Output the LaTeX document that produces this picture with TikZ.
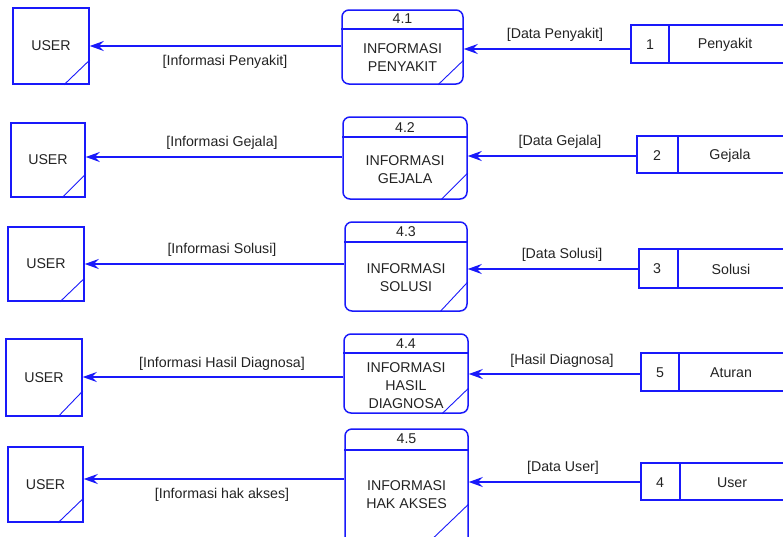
\documentclass[tikz,border=0pt]{standalone}
\usepackage{fontspec}
\setmainfont{Liberation Sans}
\usetikzlibrary{arrows.meta}
\definecolor{dfdblue}{RGB}{25,25,250}
\definecolor{txt}{RGB}{35,35,35}
\begin{document}
\begin{tikzpicture}[x=1pt,y=-1pt,
  every node/.style={font=\fontsize{14.2}{18}\selectfont, text=txt, inner sep=0pt},
  userbox/.style={draw=dfdblue, line width=1.5pt, rectangle},
  procbox/.style={draw=dfdblue, line width=1.5pt, rectangle, rounded corners=7pt},
  storebox/.style={draw=dfdblue, line width=1.5pt, rectangle},
  sep/.style={draw=dfdblue, line width=1.5pt},
  diag/.style={draw=dfdblue, line width=0.9pt},
  flow/.style={draw=dfdblue, line width=1.6pt, -{Stealth[length=14pt,width=10pt,inset=5pt]}},
  lbl/.style={align=center}]
\useasboundingbox (0,0) rectangle (783,536);
\clip (0,0) rectangle (783,536);

% ---------- Row 1 ----------
\node[userbox, minimum width=76pt, minimum height=76pt] (u1) at (51,46) {USER};
\draw[diag] (u1.east |- 0,60) -- (u1.south -| 64,0);
\node[procbox, minimum width=121pt, minimum height=74pt] (p1) at (402.5,47) {};
\draw[sep] (p1.west |- 0,29) -- (p1.east |- 0,29);
\draw[diag] (p1.east |- 0,60) -- (p1.south -| 438,0);
\node (t1) at (402.5,19) {4.1};
\node[lbl] (n1) at (402.5,58) {INFORMASI\\PENYAKIT};
\node[storebox, minimum width=164pt, minimum height=38pt] (s1) at (713,44) {};
\draw[sep] (s1.north -| 669,0) -- (s1.south -| 669,0);
\node (k1) at (650,45) {1};
\node (m1) at (725,45) {Penyakit};
\draw[flow] (s1.west |- 0,49) -- (p1.east |- 0,49);
\draw[flow] (p1.west |- 0,46) -- (u1.east |- 0,46);
\node (a1) at (555,35) {[Data Penyakit]};
\node (b1) at (225,62) {[Informasi Penyakit]};

% ---------- Row 2 ----------
\node[userbox, minimum width=74pt, minimum height=74pt] (u2) at (48,160) {USER};
\draw[diag] (u2.east |- 0,174) -- (u2.south -| 62,0);
\node[procbox, minimum width=124pt, minimum height=82pt] (p2) at (405,158) {};
\draw[sep] (p2.west |- 0,137) -- (p2.east |- 0,137);
\draw[diag] (p2.east |- 0,173) -- (p2.south -| 441,0);
\node (t2) at (405,128) {4.2};
\node[lbl] (n2) at (405,170) {INFORMASI\\GEJALA};
\node[storebox, minimum width=158pt, minimum height=37pt] (s2) at (716,154.5) {};
\draw[sep] (s2.north -| 678,0) -- (s2.south -| 678,0);
\node (k2) at (657,156) {2};
\node (m2) at (730,156) {Gejala};
\draw[flow] (s2.west |- 0,156) -- (p2.east |- 0,156);
\draw[flow] (p2.west |- 0,157) -- (u2.east |- 0,157);
\node (a2) at (560,142) {[Data Gejala]};
\node (b2) at (222,143) {[Informasi Gejala]};

% ---------- Row 3 ----------
\node[userbox, minimum width=76pt, minimum height=74pt] (u3) at (46,264) {USER};
\draw[diag] (u3.east |- 0,278) -- (u3.south -| 60,0);
\node[procbox, minimum width=122pt, minimum height=89pt] (p3) at (406,266.5) {};
\draw[sep] (p3.west |- 0,242) -- (p3.east |- 0,242);
\draw[diag] (p3.east |- 0,282) -- (p3.south -| 440,0);
\node (t3) at (406,232) {4.3};
\node[lbl] (n3) at (406,277.5) {INFORMASI\\SOLUSI};
\node[storebox, minimum width=156pt, minimum height=39pt] (s3) at (717,268.5) {};
\draw[sep] (s3.north -| 678,0) -- (s3.south -| 678,0);
\node (k3) at (657,269) {3};
\node (m3) at (731,269) {Solusi};
\draw[flow] (s3.west |- 0,269) -- (p3.east |- 0,269);
\draw[flow] (p3.west |- 0,264) -- (u3.east |- 0,264);
\node (a3) at (562,255) {[Data Solusi]};
\node (b3) at (222,250) {[Informasi Solusi]};

% ---------- Row 4 ----------
\node[userbox, minimum width=76pt, minimum height=77pt] (u4) at (44,377.5) {USER};
\draw[diag] (u4.east |- 0,391) -- (u4.south -| 58,0);
\node[procbox, minimum width=124pt, minimum height=79pt] (p4) at (406,373.5) {};
\draw[sep] (p4.west |- 0,353) -- (p4.east |- 0,353);
\draw[diag] (p4.east |- 0,388) -- (p4.south -| 442,0);
\node (t4) at (406,344) {4.4};
\node[lbl] (n4) at (406,386) {INFORMASI\\HASIL\\DIAGNOSA};
\node[storebox, minimum width=154pt, minimum height=38pt] (s5) at (718,372) {};
\draw[sep] (s5.north -| 679,0) -- (s5.south -| 679,0);
\node (k5) at (660,373) {5};
\node (m5) at (731,373) {Aturan};
\draw[flow] (s5.west |- 0,374) -- (p4.east |- 0,374);
\draw[flow] (p4.west |- 0,377) -- (u4.east |- 0,377);
\node (a4) at (562,361) {[Hasil Diagnosa]};
\node (b4) at (222,364) {[Informasi Hasil Diagnosa]};

% ---------- Row 5 ----------
\node[userbox, minimum width=75pt, minimum height=75pt] (u5) at (45.5,484.5) {USER};
\draw[diag] (u5.east |- 0,498) -- (u5.south -| 58,0);
\node[procbox, minimum width=123pt, minimum height=116pt] (p5) at (406.5,487) {};
\draw[sep] (p5.west |- 0,450) -- (p5.east |- 0,450);
\draw[diag] (p5.east |- 0,504) -- (426,545);
\node (t5) at (406.5,439) {4.5};
\node[lbl] (n5) at (406.5,495) {INFORMASI\\HAK AKSES};
\node[storebox, minimum width=154pt, minimum height=37pt] (s4) at (718,481.5) {};
\draw[sep] (s4.north -| 680,0) -- (s4.south -| 680,0);
\node (k4) at (660,483) {4};
\node (m4) at (732,483) {User};
\draw[flow] (s4.west |- 0,482) -- (p5.east |- 0,482);
\draw[flow] (p5.west |- 0,479) -- (u5.east |- 0,479);
\node (a5) at (563,468) {[Data User]};
\node (b5) at (222,495) {[Informasi hak akses]};
\end{tikzpicture}
\end{document}
